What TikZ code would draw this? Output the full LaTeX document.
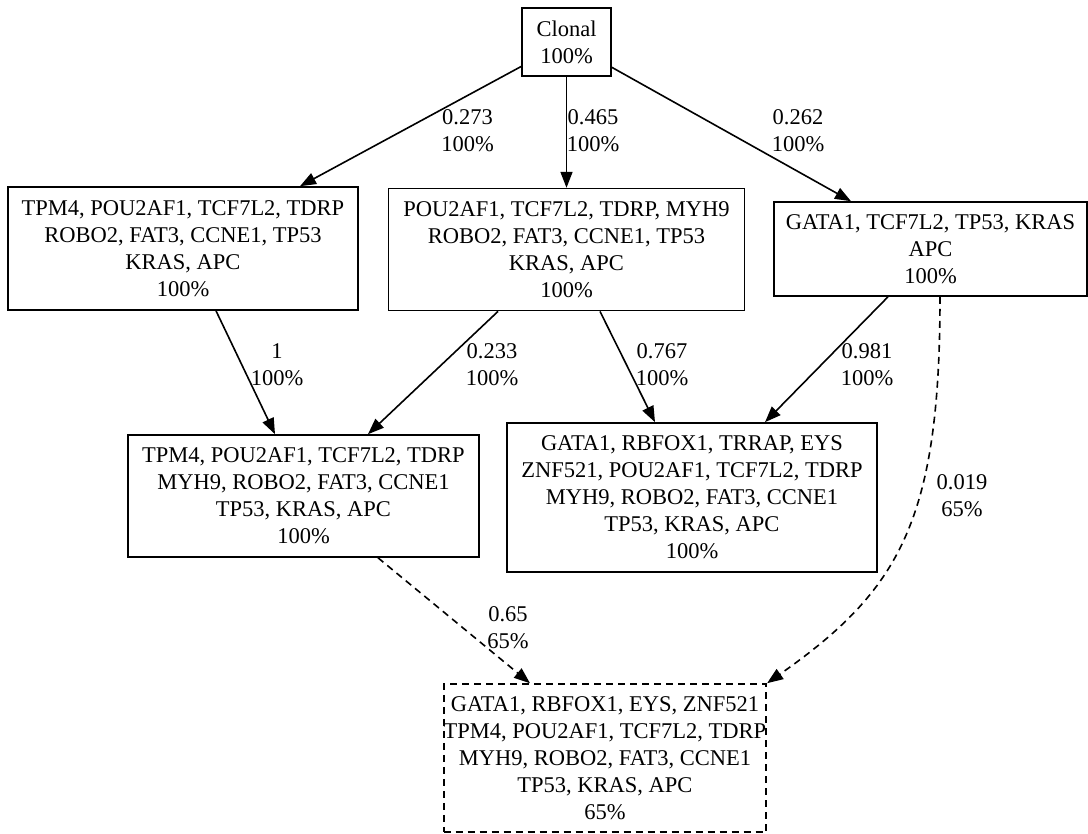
\documentclass[tikz,border=0pt]{standalone}
\usepackage{fontspec}
\setmainfont{Liberation Serif}
\usetikzlibrary{arrows.meta,positioning}

\begin{document}
\begin{tikzpicture}[x=0.5pt, y=-0.5pt,
    >={Triangle[length=8pt,width=6pt]},
    clonebox/.style={draw, line width=0.8pt, inner sep=0pt, align=center, font=\fontsize{11.25}{13.5}\selectfont},
    subclonebox/.style={clonebox, dash pattern=on 3.5pt off 2.5pt},
    link/.style={->, line width=0.8pt},
    weaklink/.style={link, dash pattern=on 3.5pt off 2.5pt},
    weight/.style={align=center, inner sep=0pt, font=\fontsize{11.25}{13.5}\selectfont}]
  \useasboundingbox (0,0) rectangle (1088,834);

  % clones
  \node[clonebox, minimum width=44.5pt, minimum height=34pt] (clonal) at (566.5,42) {Clonal\\100\%};
  \node[clonebox, minimum width=175pt, minimum height=61.5pt] (c1) at (183,248.5) {TPM4, POU2AF1, TCF7L2, TDRP\\ROBO2, FAT3, CCNE1, TP53\\KRAS, APC\\100\%};
  \node[clonebox, below=55.5pt of clonal, minimum width=178pt, minimum height=61pt] (c2) {POU2AF1, TCF7L2, TDRP, MYH9\\ROBO2, FAT3, CCNE1, TP53\\KRAS, APC\\100\%};
  \node[clonebox, minimum width=156.5pt, minimum height=47pt] (c3) at (930.5,249) {GATA1, TCF7L2, TP53, KRAS\\APC\\100\%};
  \node[clonebox, minimum width=175.5pt, minimum height=61pt] (c4) at (303.5,496) {TPM4, POU2AF1, TCF7L2, TDRP\\MYH9, ROBO2, FAT3, CCNE1\\TP53, KRAS, APC\\100\%};
  \node[clonebox, minimum width=185pt, minimum height=74.5pt] (c5) at (692,497.5) {GATA1, RBFOX1, TRRAP, EYS\\ZNF521, POU2AF1, TCF7L2, TDRP\\MYH9, ROBO2, FAT3, CCNE1\\TP53, KRAS, APC\\100\%};
  \node[subclonebox, minimum width=161pt, minimum height=74pt] (c6) at (605,758) {GATA1, RBFOX1, EYS, ZNF521\\TPM4, POU2AF1, TCF7L2, TDRP\\MYH9, ROBO2, FAT3, CCNE1\\TP53, KRAS, APC\\65\%};

  % edges
  \draw[link] (clonal) -- ([xshift=58.5pt]c1.north);
  \draw[link] (clonal) -- (c2);
  \draw[link] (clonal) -- ([xshift=-39.75pt]c3.north);
  \draw[link] ([xshift=16.5pt]c1.south) -- ([xshift=-14.25pt]c4.north);
  \draw[link] ([xshift=-34.25pt]c2.south) -- ([xshift=32.25pt]c4.north);
  \draw[link] ([xshift=16.75pt]c2.south) -- ([xshift=-18.5pt]c5.north);
  \draw[link] ([xshift=-21.25pt]c3.south) -- ([xshift=36.5pt]c5.north);
  \draw[weaklink] ([xshift=37.25pt]c4.south) -- ([xshift=-37.5pt]c6.north);
  \draw[weaklink] ([xshift=4.75pt]c3.south) .. controls (940,520) and (900,590) .. (c6.north east);

  % edge weights
  \node[weight] (w1) at (467.5,131) {0.273\\100\%};
  \node[weight] (w2) at (593,131) {0.465\\100\%};
  \node[weight] (w3) at (798,131) {0.262\\100\%};
  \node[weight] (w4) at (277,365) {1\\100\%};
  \node[weight] (w5) at (492,365) {0.233\\100\%};
  \node[weight] (w6) at (662,365) {0.767\\100\%};
  \node[weight] (w7) at (867,365) {0.981\\100\%};
  \node[weight] (w8) at (508,628) {0.65\\65\%};
  \node[weight] (w9) at (962,496) {0.019\\65\%};
\end{tikzpicture}
\end{document}
